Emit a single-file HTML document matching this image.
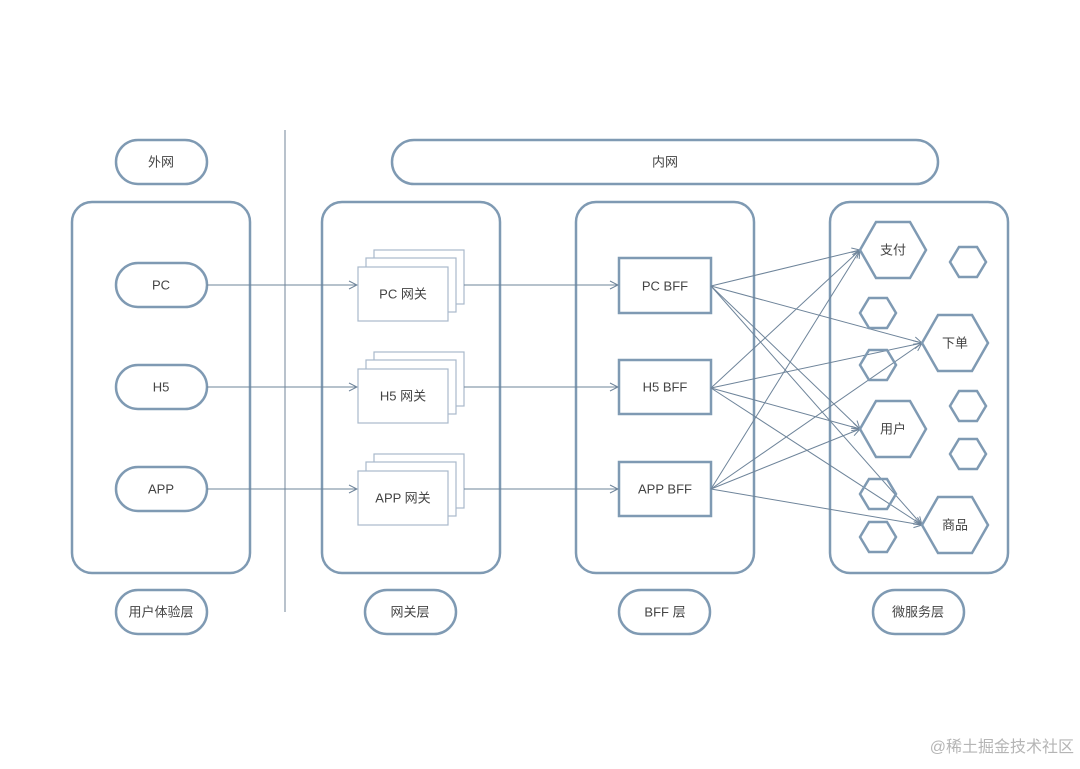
<!DOCTYPE html><html><head><meta charset="utf-8"><style>body{margin:0;background:#fff}</style></head><body>
<svg width="1080" height="764" xmlns="http://www.w3.org/2000/svg" font-family="Liberation Sans, Noto Sans CJK SC, sans-serif" font-size="13" fill="#444">
<defs><marker id="a" markerWidth="10" markerHeight="10" refX="9" refY="5" orient="auto" markerUnits="userSpaceOnUse"><path d="M1,1 L9,5 L1,9" fill="none" stroke="#6e849a" stroke-width="1"/></marker></defs>
<g fill="none" stroke="#7f9ab3" stroke-width="2.5">
<rect x="116" y="140" width="91" height="44" rx="22"/>
<rect x="392" y="140" width="546" height="44" rx="22"/>
<rect x="72" y="202" width="178" height="371" rx="20"/>
<rect x="322" y="202" width="178" height="371" rx="20"/>
<rect x="576" y="202" width="178" height="371" rx="20"/>
<rect x="830" y="202" width="178" height="371" rx="20"/>
<rect x="116" y="263" width="91" height="44" rx="22"/>
<rect x="116" y="365" width="91" height="44" rx="22"/>
<rect x="116" y="467" width="91" height="44" rx="22"/>
<rect x="116" y="590" width="91" height="44" rx="22"/>
<rect x="365" y="590" width="91" height="44" rx="22"/>
<rect x="619" y="590" width="91" height="44" rx="22"/>
<rect x="873" y="590" width="91" height="44" rx="22"/>
<rect x="619" y="258" width="92" height="55"/>
<rect x="619" y="360" width="92" height="54"/>
<rect x="619" y="462" width="92" height="54"/>
</g>
<line x1="285" y1="130" x2="285" y2="612" stroke="#8a9aaa" stroke-width="1.2"/>
<g fill="#fff" stroke="#a9b9cb" stroke-width="1.2">
<rect x="374" y="250" width="90" height="54"/><rect x="366" y="258" width="90" height="54"/><rect x="358" y="267" width="90" height="54"/>
<rect x="374" y="352" width="90" height="54"/><rect x="366" y="360" width="90" height="54"/><rect x="358" y="369" width="90" height="54"/>
<rect x="374" y="454" width="90" height="54"/><rect x="366" y="462" width="90" height="54"/><rect x="358" y="471" width="90" height="54"/>
</g>
<g stroke="#6e849a" stroke-width="1" fill="none" marker-end="url(#a)">
<line x1="207" y1="285" x2="357" y2="285"/><line x1="207" y1="387" x2="357" y2="387"/><line x1="207" y1="489" x2="357" y2="489"/>
<line x1="464" y1="285" x2="618" y2="285"/><line x1="464" y1="387" x2="618" y2="387"/><line x1="464" y1="489" x2="618" y2="489"/>
<line x1="711" y1="286" x2="860" y2="250"/><line x1="711" y1="286" x2="922" y2="343"/><line x1="711" y1="286" x2="860" y2="429"/><line x1="711" y1="286" x2="922" y2="525"/>
<line x1="711" y1="388" x2="860" y2="250"/><line x1="711" y1="388" x2="922" y2="343"/><line x1="711" y1="388" x2="860" y2="429"/><line x1="711" y1="388" x2="922" y2="525"/>
<line x1="711" y1="489" x2="860" y2="250"/><line x1="711" y1="489" x2="922" y2="343"/><line x1="711" y1="489" x2="860" y2="429"/><line x1="711" y1="489" x2="922" y2="525"/>
</g>
<g fill="none" stroke="#7f9ab3" stroke-width="2.5">
<polygon points="860,250 876,222 910,222 926,250 910,278 876,278"/>
<polygon points="922,343 938,315 972,315 988,343 972,371 938,371"/>
<polygon points="860,429 876,401 910,401 926,429 910,457 876,457"/>
<polygon points="922,525 938,497 972,497 988,525 972,553 938,553"/>
<polygon points="950,262 959,247 977,247 986,262 977,277 959,277"/>
<polygon points="860,313 869,298 887,298 896,313 887,328 869,328"/>
<polygon points="860,365 869,350 887,350 896,365 887,380 869,380"/>
<polygon points="950,406 959,391 977,391 986,406 977,421 959,421"/>
<polygon points="950,454 959,439 977,439 986,454 977,469 959,469"/>
<polygon points="860,494 869,479 887,479 896,494 887,509 869,509"/>
<polygon points="860,537 869,522 887,522 896,537 887,552 869,552"/>
</g>
<g text-anchor="middle" dominant-baseline="central">
<text x="161" y="162">外网</text><text x="665" y="162">内网</text>
<text x="161" y="285">PC</text><text x="161" y="387">H5</text><text x="161" y="489">APP</text>
<text x="403" y="294">PC 网关</text><text x="403" y="396">H5 网关</text><text x="403" y="498">APP 网关</text>
<text x="665" y="286">PC BFF</text><text x="665" y="387">H5 BFF</text><text x="665" y="489">APP BFF</text>
<text x="893" y="250">支付</text><text x="955" y="343">下单</text><text x="893" y="429">用户</text><text x="955" y="525">商品</text>
<text x="161" y="612">用户体验层</text><text x="410" y="612">网关层</text><text x="665" y="612">BFF 层</text><text x="918" y="612">微服务层</text>
</g>
<text x="1074" y="752" text-anchor="end" font-size="16" fill="#b5b5b5">@稀土掘金技术社区</text>
</svg></body></html>
